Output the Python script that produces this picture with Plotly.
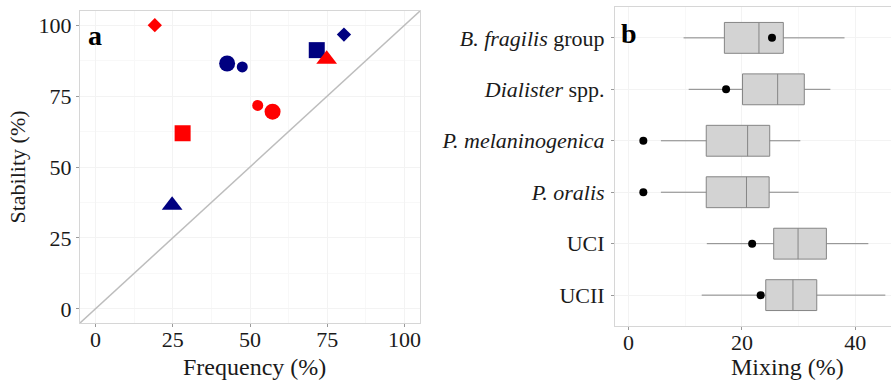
import plotly.graph_objects as go

# ---------------- data: panel a ----------------
freq = [19.2, 42.6, 47.5, 71.6, 74.8, 80.4, 52.5, 57.3, 28.2, 24.8]
stab = [100.0, 86.5, 85.3, 91.2, 88.0, 96.7, 71.7, 69.5, 61.9, 36.5]
pt_color = ["red", "navy", "navy", "navy", "red", "navy", "red", "red", "red", "navy"]
pt_symbol = ["diamond", "circle", "circle", "square", "triangle-up", "diamond",
             "circle", "circle", "square", "triangle-up"]
pt_size = [11, 16, 11, 16, 18, 11, 11, 16, 16, 18]

# ---------------- data: panel b ----------------
groups = ["<i>B. fragilis</i> group", "<i>Dialister</i> spp.", "<i>P. melaninogenica</i>",
          "<i>P. oralis</i>", "UCI", "UCII"]
low = [9.7, 10.6, 5.7, 5.7, 13.8, 12.9]
q1 = [16.9, 20.1, 13.7, 13.7, 25.6, 24.2]
med = [23.0, 26.3, 21.0, 20.8, 29.9, 29.0]
q3 = [27.3, 31.0, 24.9, 24.8, 34.9, 33.2]
high = [38.1, 35.6, 30.3, 30.0, 42.3, 45.3]
dots = [25.3, 17.2, 2.6, 2.6, 21.8, 23.3]

FONT = "Liberation Serif"
GRID = "#F3F3F3"
BORDER = "#D6D6D6"

fig = go.Figure()

# diagonal
fig.add_trace(go.Scatter(x=[-5, 105], y=[-5, 105], mode="lines",
                         line=dict(color="#BDBDBD", width=1.5),
                         xaxis="x", yaxis="y", showlegend=False, hoverinfo="skip"))
fig.add_trace(go.Scatter(x=freq, y=stab, mode="markers",
                         marker=dict(color=pt_color, symbol=pt_symbol, size=pt_size,
                                     opacity=1, line=dict(width=0)),
                         xaxis="x", yaxis="y", showlegend=False))

for g, a, b, c, d, e in zip(groups, low, q1, med, q3, high):
    fig.add_trace(go.Box(y=[g], lowerfence=[a], q1=[b], median=[c], q3=[d], upperfence=[e],
                         orientation="h", boxpoints=False, width=0.6,
                         fillcolor="#D3D3D3", line=dict(color="#858585", width=1),
                         whiskerwidth=0, xaxis="x2", yaxis="y2", showlegend=False))

fig.add_trace(go.Scatter(x=dots, y=groups, mode="markers",
                         marker=dict(color="black", size=8, opacity=1),
                         xaxis="x2", yaxis="y2", showlegend=False))

axis_common = dict(showline=True, mirror=True, linecolor=BORDER, linewidth=1,
                   showgrid=True, gridcolor=GRID, zeroline=False,
                   ticks="outside", ticklen=3, tickcolor="#999999",
                   tickfont=dict(family=FONT, size=22, color="#1a1a1a"))

XTITLE_FONT = dict(family=FONT, size=24, color="#1a1a1a")
YTITLE_FONT = dict(family=FONT, size=22, color="#1a1a1a")

fig.update_layout(
    width=891, height=381,
    margin=dict(l=0, r=0, t=0, b=0),
    paper_bgcolor="white", plot_bgcolor="white",
    font=dict(family=FONT, size=22, color="#1a1a1a"),
    xaxis=dict(domain=[80 / 891, 420 / 891], range=[-5, 105], anchor="y",
               tickvals=[0, 25, 50, 75, 100], ticklabelstandoff=-6,
               minor=dict(showgrid=True, gridcolor="#F8F8F8", dtick=12.5, tick0=0),
               **axis_common),
    yaxis=dict(domain=[1 - 323 / 381, 1 - 11 / 381], range=[-5, 105], anchor="x",
               tickvals=[0, 25, 50, 75, 100],
               minor=dict(showgrid=True, gridcolor="#F8F8F8", dtick=12.5, tick0=0),
               title=dict(text="Stability (%)", font=YTITLE_FONT, standoff=6),
               **axis_common),
    xaxis2=dict(domain=[615 / 891, 1.0], range=[-2.4, 46.3], anchor="y2",
                tickvals=[0, 20, 40], ticklabelstandoff=-6,
                minor=dict(showgrid=True, gridcolor="#F8F8F8", dtick=10, tick0=0),
                **axis_common),
    yaxis2=dict(domain=[1 - 326 / 381, 1 - 7 / 381], anchor="x2",
                type="category", categoryorder="array", categoryarray=groups,
                range=[5.6, -0.6], ticklabelstandoff=2,
                **axis_common),
    annotations=[
        dict(text="<b>a</b>", x=0.0, y=100, xref="x", yref="y", xanchor="center",
             yanchor="middle", showarrow=False, font=dict(family=FONT, size=28, color="black"),
             yshift=-10),
        dict(text="<b>b</b>", x=0, y=groups[0], xref="x2", yref="y2", xanchor="center",
             yanchor="middle", showarrow=False, font=dict(family=FONT, size=28, color="black"),
             yshift=4),
        dict(text="Frequency (%)", x=255 / 891, y=1 - 367 / 381, xref="paper", yref="paper",
             xanchor="center", yanchor="middle", showarrow=False, font=XTITLE_FONT),
        dict(text="Mixing (%)", x=787 / 891, y=1 - 367 / 381, xref="paper", yref="paper",
             xanchor="center", yanchor="middle", showarrow=False, font=XTITLE_FONT),
    ],
)

fig.write_html("out.html")
